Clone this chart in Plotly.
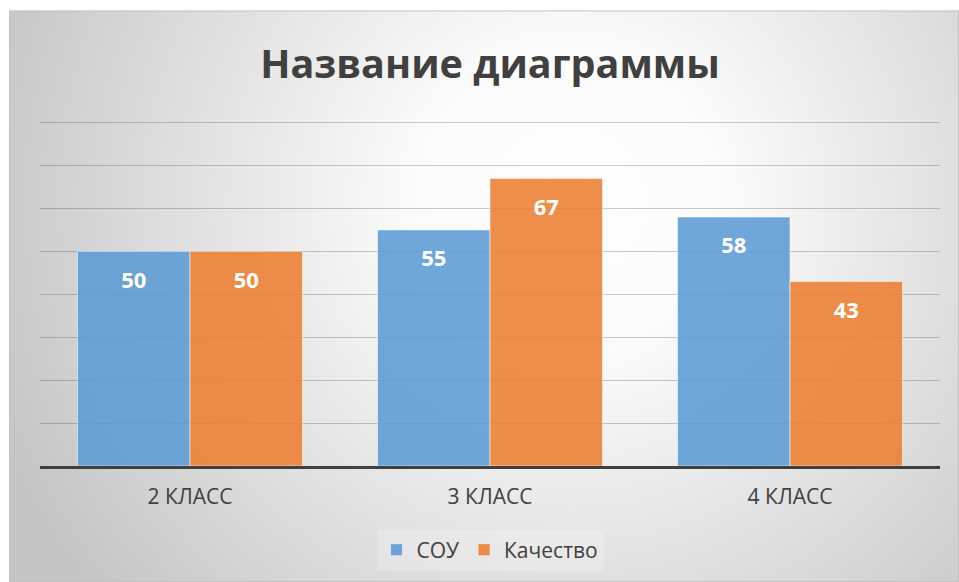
import base64
import plotly.graph_objects as go

categories = ["2 КЛАСС", "3 КЛАСС", "4 КЛАСС"]
sou = [50, 55, 58]
quality = [50, 67, 43]
series_names = ["СОУ", "Качество"]
title_text = "Название диаграммы"

W, H = 959, 582
YMAX = 80.6
L, R, B = 40, 19, 116
T = 123 - (YMAX - 80) * (343 / 80)
pw, ph = W - L - R, H - T - B

svg = f'''<svg xmlns="http://www.w3.org/2000/svg" width="950" height="571" viewBox="0 0 950 571" preserveAspectRatio="none">
<defs><radialGradient id="g" gradientUnits="userSpaceOnUse" cx="560" cy="190" r="620">
<stop offset="0" stop-color="#ffffff"/><stop offset="0.25" stop-color="#fbfbfb"/>
<stop offset="1" stop-color="#c4c4c4"/></radialGradient></defs>
<rect x="0" y="0" width="950" height="571" fill="url(#g)" stroke="#c2c2c2" stroke-width="2"/>
</svg>'''
src = "data:image/svg+xml;base64," + base64.b64encode(svg.encode()).decode()

label_font = dict(color="white", size=22, family="Open Sans", weight="bold")
colors = ["rgba(91,155,213,0.88)", "rgba(237,125,49,0.88)"]

fig = go.Figure()
for i, (name, vals) in enumerate(zip(series_names, [sou, quality])):
    fig.add_trace(go.Bar(
        x=categories, y=vals, name=name, offsetgroup=str(i),
        marker=dict(color=colors[i], line=dict(color="rgba(255,255,255,0.55)", width=1)),
        hoverinfo="skip",
    ))
for i, (name, vals) in enumerate(zip(series_names, [sou, quality])):
    fig.add_trace(go.Scatter(
        x=categories, y=vals, name=name, offsetgroup=str(i), showlegend=False,
        mode="markers+text", marker=dict(size=30, opacity=0),
        text=[str(v) for v in vals], textposition="bottom center", textfont=label_font,
        hoverinfo="skip",
    ))

fig.update_layout(
    width=W, height=H,
    margin=dict(l=L, r=R, t=T, b=B),
    paper_bgcolor="white", plot_bgcolor="rgba(0,0,0,0)",
    barmode="group", bargap=0.25, bargroupgap=0,
    scattermode="group", scattergap=0.25,
    font=dict(family="Open Sans", color="#404040"),
    title=dict(text=title_text, xref="paper", x=0.5, xanchor="center", y=(H - 64) / H, yanchor="middle",
               font=dict(size=39.5, color="#404040", family="Open Sans", weight="bold")),
    xaxis=dict(showline=True, linecolor="#404040", linewidth=3, ticks="", showgrid=False,
               tickfont=dict(size=21, color="#404040"), ticklabelstandoff=10),
    yaxis=dict(range=[0, YMAX], tickvals=[10, 20, 30, 40, 50, 60, 70, 80], showgrid=True,
               gridcolor="rgba(0,0,0,0.2)", gridwidth=1,
               showticklabels=False, zeroline=False, showline=False, ticks=""),
    legend=dict(orientation="h", x=0.5, xanchor="center", y=(466 - 550) / ph, yanchor="middle",
                font=dict(size=21, color="#404040"), traceorder="normal", itemwidth=30,
                bgcolor="rgba(255,255,255,0.2)"),
    showlegend=True,
    images=[dict(source=src, xref="paper", yref="paper",
                 x=(9 - L) / pw, y=(H - B - 11) / ph, sizex=950 / pw, sizey=571 / ph,
                 xanchor="left", yanchor="top", sizing="stretch", layer="below")],
)

fig.write_html("out.html", config={"displayModeBar": False},
               post_script="document.body.style.margin='0';")
